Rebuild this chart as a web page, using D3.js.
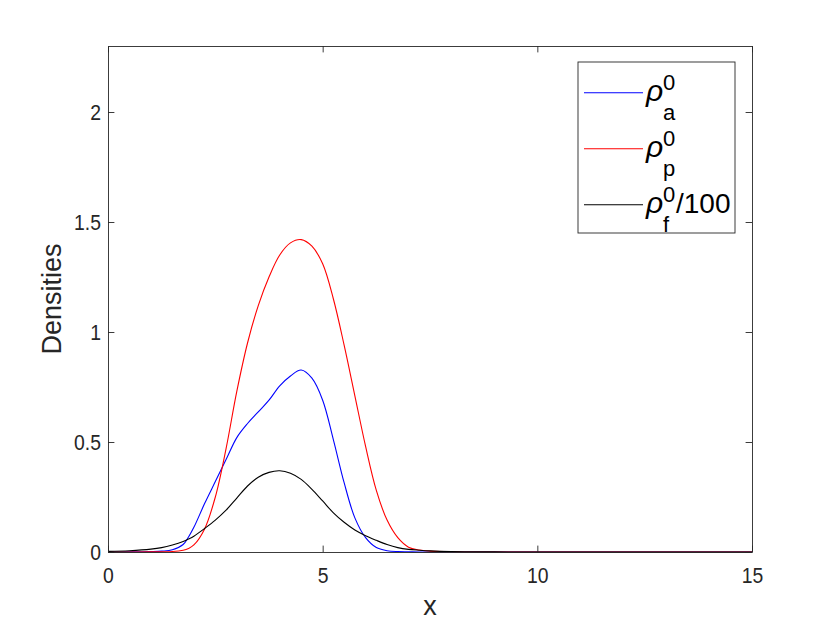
<!DOCTYPE html>
<html>
<head>
<meta charset="utf-8">
<script src="https://cdn.jsdelivr.net/npm/d3@7"></script>
<style>
  body { margin: 0; background: #fff; }
  text { font-family: "Liberation Sans", Arial, sans-serif; }
</style>
</head>
<body>
<div id="chart"></div>
<script>
// data
const xValues = [0, 0.5, 1, 1.25, 1.5, 1.75, 1.875, 2, 2.25, 2.5, 2.75, 3, 3.25, 3.5, 3.75, 4, 4.25, 4.5, 4.75,
  5, 5.25, 5.5, 5.75, 6, 6.25, 6.5, 6.75, 7, 7.25, 7.5, 8, 9, 10, 12, 15]
const rhoA = [0, 0.0005, 0.002, 0.004, 0.01, 0.034, 0.068, 0.112, 0.22, 0.32, 0.42, 0.52, 0.584, 0.637, 0.69, 0.755, 0.80, 0.827, 0.79,
  0.69, 0.51, 0.315, 0.155, 0.065, 0.02, 0.006, 0.002, 0.001, 0, 0, 0, 0, 0, 0, 0]
const rhoP = [0, 0, 0.0005, 0.001, 0.002, 0.008, 0.016, 0.032, 0.105, 0.25, 0.47, 0.73, 0.95, 1.12, 1.25, 1.35, 1.405, 1.42, 1.39,
  1.31, 1.15, 0.94, 0.71, 0.48, 0.28, 0.145, 0.065, 0.022, 0.009, 0.004, 0.001, 0, 0, 0, 0]
const rhoF = [0.003, 0.006, 0.013, 0.02, 0.032, 0.048, 0.059, 0.072, 0.107, 0.145, 0.19, 0.245, 0.30, 0.34, 0.362, 0.369, 0.358, 0.33, 0.285,
  0.232, 0.178, 0.135, 0.10, 0.074, 0.053, 0.034, 0.02, 0.012, 0.008, 0.005, 0.002, 0.0005, 0, 0, 0]

const xTicks = [0, 5, 10, 15]
const yTicks = [0, 0.5, 1, 1.5, 2]

const seriesNames = ['a', 'p', 'f']
const seriesSuffix = ['', '', '/100']
const seriesColors = ['#0000ff', '#ff0000', '#000000']
const seriesValues = [rhoA, rhoP, rhoF]

// dimensions
let dimensions = {
  width: 830,
  height: 623,
  margin: { top: 46, right: 78, bottom: 71, left: 108 }
}
dimensions.ctrWidth = dimensions.width - dimensions.margin.left - dimensions.margin.right
dimensions.ctrHeight = dimensions.height - dimensions.margin.top - dimensions.margin.bottom

const axisColor = '#262626'

const svg = d3.select('#chart')
  .append('svg')
  .attr('width', dimensions.width)
  .attr('height', dimensions.height)

const ctr = svg.append('g')
  .attr('transform', `translate(${dimensions.margin.left}, ${dimensions.margin.top})`)

// scales
const xScale = d3.scaleLinear()
  .domain([0, 15])
  .range([0, dimensions.ctrWidth])
const yScale = d3.scaleLinear()
  .domain([0, 2.3])
  .range([dimensions.ctrHeight, 0])

// lines
const line = d3.line()
  .x(d => xScale(d[0]))
  .y(d => yScale(d[1]))
  .curve(d3.curveCatmullRom.alpha(0.5))

seriesValues.forEach((vals, i) => {
  ctr.append('path')
    .datum(xValues.map((x, j) => [x, vals[j]]))
    .attr('d', line)
    .attr('fill', 'none')
    .attr('stroke', seriesColors[i])
    .attr('stroke-width', 1.1)
})

// axes (ticks inside, box on)
const tickLen = 6.4
const styleAxis = g => {
  g.select('.domain').attr('stroke', axisColor).attr('stroke-width', 0.9)
  g.selectAll('.tick line').attr('stroke', axisColor).attr('stroke-width', 0.9)
  g.selectAll('.tick text').attr('fill', axisColor).style('font-size', '22px')
    .style('font-family', '"Liberation Sans", Arial, sans-serif')
    .attr('transform', 'scale(0.88, 1)')
}

ctr.append('g')
  .attr('transform', `translate(0, ${dimensions.ctrHeight})`)
  .call(d3.axisBottom(xScale).tickValues(xTicks).tickFormat(d => d).tickSizeInner(-tickLen).tickSizeOuter(0).tickPadding(15))
  .call(styleAxis)

ctr.append('g')
  .call(d3.axisTop(xScale).tickValues(xTicks).tickSizeInner(-tickLen).tickSizeOuter(0).tickFormat(''))
  .call(styleAxis)

ctr.append('g')
  .call(d3.axisLeft(yScale).tickValues(yTicks).tickFormat(d => d).tickSizeInner(-tickLen).tickSizeOuter(0).tickPadding(8))
  .call(styleAxis)

ctr.append('g')
  .attr('transform', `translate(${dimensions.ctrWidth}, 0)`)
  .call(d3.axisRight(yScale).tickValues(yTicks).tickSizeInner(-tickLen).tickSizeOuter(0).tickFormat(''))
  .call(styleAxis)

// axis labels
ctr.append('text')
  .attr('x', dimensions.ctrWidth / 2)
  .attr('y', dimensions.ctrHeight + 63)
  .attr('fill', axisColor)
  .style('font-size', '27px')
  .style('text-anchor', 'middle')
  .text('x')

ctr.append('text')
  .attr('transform', `translate(${-47}, ${dimensions.ctrHeight / 2}) rotate(-90)`)
  .attr('fill', axisColor)
  .style('font-size', '27px')
  .style('text-anchor', 'middle')
  .text('Densities')

// legend
const legend = svg.append('g').attr('transform', 'translate(578, 62)')
legend.append('rect')
  .attr('width', 157)
  .attr('height', 171)
  .attr('fill', '#fff')
  .attr('stroke', axisColor)
  .attr('stroke-width', 0.9)

seriesNames.forEach((name, i) => {
  const ly = 30.7 + i * 56
  legend.append('line')
    .attr('x1', 6).attr('x2', 65)
    .attr('y1', ly).attr('y2', ly)
    .attr('stroke', seriesColors[i])
    .attr('stroke-width', 1.1)
  legend.append('text')
    .attr('x', 68).attr('y', ly + 8)
    .style('font-size', '30px')
    .style('font-style', 'italic')
    .text('ρ')
  legend.append('text')
    .attr('x', 85).attr('y', ly - 3)
    .style('font-size', '22px')
    .text('0')
  legend.append('text')
    .attr('x', 85).attr('y', ly + 27)
    .style('font-size', '22px')
    .text(name)
  if (seriesSuffix[i]) {
    legend.append('text')
      .attr('x', 98).attr('y', ly + 8)
      .style('font-size', '28px')
      .text(seriesSuffix[i])
  }
})
</script>
</body>
</html>
